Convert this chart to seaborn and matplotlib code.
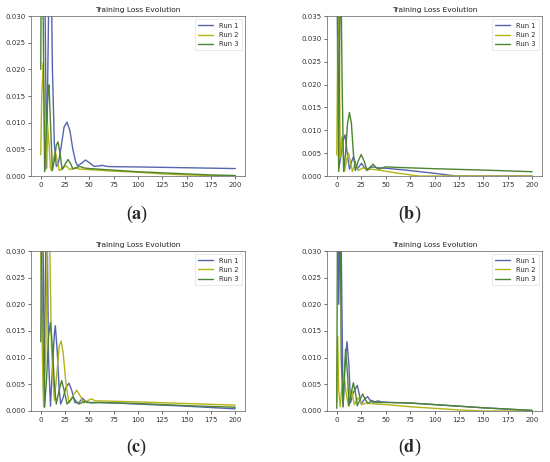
import matplotlib
matplotlib.use("Agg")
import pandas as pd
import seaborn as sns
from matplotlib import pyplot as plt

# values (epoch, loss)
# panel (a)
a_run1_x = [0, 3, 6, 8, 10, 12, 14, 16, 18, 21, 24, 27, 30, 33, 36, 38, 42, 46, 50, 55, 60, 63, 68, 75, 100, 150, 200]
a_run1_y = [0.12, 0.06, 0.0015, 0.03, 0.05, 0.02, 0.006, 0.0018, 0.0022, 0.0055, 0.0092, 0.0101, 0.0085, 0.005, 0.0026, 0.0019, 0.0024, 0.003, 0.0025, 0.0018, 0.0019, 0.002, 0.0018, 0.00175, 0.0017, 0.00155, 0.0014]
a_run2_x = [0, 1, 2.4, 4, 5, 6, 7, 8.5, 10, 11, 13, 15, 17, 19, 22, 26, 30, 34, 40, 50, 75, 100, 125, 150, 175, 200]
a_run2_y = [0.004, 0.015, 0.0213, 0.007, 0.0012, 0.006, 0.0097, 0.006, 0.0015, 0.001, 0.0032, 0.0046, 0.0028, 0.001, 0.0014, 0.0019, 0.0012, 0.0015, 0.0013, 0.0012, 0.0009, 0.0007, 0.0004, 0.0002, 0.0001, 0.0]
a_run3_x = [0, 1, 2, 4, 6, 7.5, 8.5, 10, 12, 14, 16, 17.8, 20, 22, 25, 28, 31, 33, 37, 40, 45, 50, 75, 100, 125, 150, 175, 200]
a_run3_y = [0.02, 0.06, 0.04, 0.0008, 0.01, 0.016, 0.0171, 0.01, 0.001, 0.003, 0.0058, 0.0064, 0.004, 0.0012, 0.0022, 0.0031, 0.0022, 0.0013, 0.0016, 0.0018, 0.0015, 0.0014, 0.0011, 0.0008, 0.0006, 0.0004, 0.0002, 0.0001]

# panel (b)
b_run1_x = [0, 1, 2, 4, 6, 8.5, 11, 13, 15, 17, 19, 21, 23, 25.4, 28, 30, 34, 37, 42, 50, 70, 100, 122, 150, 200]
b_run1_y = [0.05, 0.0228, 0.0015, 0.004, 0.0075, 0.009, 0.0045, 0.0015, 0.003, 0.0042, 0.003, 0.0015, 0.0021, 0.0028, 0.0019, 0.0014, 0.0018, 0.002, 0.0018, 0.0017, 0.0013, 0.0006, 0.0, 0.0, 0.0]
b_run2_x = [0, 1, 2, 3.5, 5.4, 7, 8, 10, 12, 14, 16, 19, 22, 27, 31, 35, 43, 60, 84, 100, 150, 200]
b_run2_y = [0.0046, 0.03, 0.045, 0.004, 0.0086, 0.004, 0.001, 0.0035, 0.005, 0.003, 0.001, 0.0028, 0.0012, 0.0018, 0.0013, 0.0015, 0.0013, 0.0007, 0.0, 0.0, 0.0, 0.0]
b_run3_x = [0, 1, 2, 3, 4, 5.5, 7, 9, 11, 13, 15, 17, 19, 22, 25, 28, 31, 34, 37, 40, 43, 47, 50, 60, 100, 150, 200]
b_run3_y = [0.06, 0.035, 0.001, 0.03, 0.05, 0.02, 0.001, 0.005, 0.0115, 0.0139, 0.0115, 0.005, 0.0012, 0.0033, 0.0047, 0.0033, 0.0012, 0.0019, 0.0026, 0.0019, 0.0015, 0.0018, 0.002, 0.0019, 0.0016, 0.0013, 0.00094]

# panel (c)
c_run1_x = [0, 1.5, 3, 4.5, 6, 8, 10, 12, 14, 15, 17, 19, 20.5, 23, 26, 29, 32, 35, 39, 43, 47, 55, 75, 100, 150, 200]
c_run1_y = [0.05, 0.02, 0.0022, 0.02, 0.045, 0.01, 0.0009, 0.008, 0.0145, 0.016, 0.011, 0.004, 0.0013, 0.0025, 0.0045, 0.0052, 0.0038, 0.0016, 0.0015, 0.0024, 0.0016, 0.0016, 0.0015, 0.0013, 0.0009, 0.0004]
c_run2_x = [0, 1.5, 3, 5, 8, 11, 14, 17, 19, 21, 23, 26, 29, 33, 37, 41, 44, 48, 52, 56, 60, 100, 150, 200]
c_run2_y = [0.03, 0.012, 0.0008, 0.01, 0.045, 0.012, 0.002, 0.008, 0.0122, 0.0131, 0.011, 0.005, 0.0015, 0.0028, 0.0039, 0.0027, 0.0015, 0.0019, 0.0023, 0.0019, 0.0019, 0.0017, 0.0014, 0.0011]
c_run3_x = [0, 1.5, 4, 6, 8, 10, 12, 14, 16, 19, 21.5, 24, 27, 30, 33, 36, 39, 45, 52, 60, 100, 150, 200]
c_run3_y = [0.013, 0.05, 0.0007, 0.006, 0.014, 0.0166, 0.012, 0.005, 0.0013, 0.004, 0.0057, 0.0039, 0.0013, 0.0019, 0.0026, 0.0019, 0.0013, 0.0018, 0.0015, 0.0016, 0.0014, 0.001, 0.0007]

# panel (d)
d_run1_x = [0, 2, 4, 6.5, 8.5, 10.5, 12.5, 14, 17, 21, 23, 25, 28, 31.5, 35, 38, 42, 46, 55, 75, 100, 150, 200]
d_run1_y = [0.08, 0.02, 0.04, 0.0008, 0.009, 0.013, 0.0085, 0.0015, 0.0035, 0.0048, 0.0032, 0.0013, 0.0021, 0.0027, 0.0018, 0.0016, 0.0019, 0.0017, 0.0016, 0.0015, 0.0012, 0.0006, 0.0001]
d_run2_x = [0, 1, 2, 3.5, 5, 7.4, 9.5, 12, 15, 18, 22, 26, 30, 40, 50, 75, 100, 125, 150, 200]
d_run2_y = [0.0015, 0.014, 0.004, 0.0008, 0.004, 0.0068, 0.0035, 0.0009, 0.004, 0.0012, 0.0025, 0.0012, 0.0015, 0.0013, 0.0012, 0.0008, 0.0005, 0.0002, 0.0, 0.0]
d_run3_x = [0, 1, 2, 3, 4.5, 6.5, 9, 11, 12.5, 15, 17, 19, 21, 24, 26.5, 29, 32, 36, 40, 50, 75, 100, 150, 200]
d_run3_y = [0.0005, 0.05, 0.03, 0.06, 0.01, 0.0008, 0.0116, 0.007, 0.001, 0.0035, 0.0053, 0.0035, 0.001, 0.0022, 0.0032, 0.0022, 0.0014, 0.002, 0.0016, 0.0016, 0.0015, 0.0012, 0.0006, 0.0001]

panels = {
    'a': [(a_run1_x, a_run1_y), (a_run2_x, a_run2_y), (a_run3_x, a_run3_y)],
    'b': [(b_run1_x, b_run1_y), (b_run2_x, b_run2_y), (b_run3_x, b_run3_y)],
    'c': [(c_run1_x, c_run1_y), (c_run2_x, c_run2_y), (c_run3_x, c_run3_y)],
    'd': [(d_run1_x, d_run1_y), (d_run2_x, d_run2_y), (d_run3_x, d_run3_y)],
}
y_tops = {'a': 0.030, 'b': 0.035, 'c': 0.030, 'd': 0.030}
run_names = ['Run 1', 'Run 2', 'Run 3']
run_colors = ['#5664b0', '#b4b418', '#4d8433']

sns.set_style('ticks')
plt.rcParams['font.family'] = ['DejaVu Sans']
plt.rcParams['mathtext.fontset'] = 'stix'

fig = plt.figure(figsize=(5.5, 4.62), dpi=100)

boxes = {
    'a': [0.0564, 0.619, 0.389, 0.3463],
    'b': [0.5945, 0.619, 0.391, 0.3463],
    'c': [0.0564, 0.1104, 0.389, 0.3463],
    'd': [0.5945, 0.1104, 0.391, 0.3463],
}
captions = {'a': (0.249, 0.513), 'b': (0.745, 0.513), 'c': (0.249, 0.008), 'd': (0.745, 0.008)}

for key, runs in panels.items():
    # long table so seaborn handles the colours and legend
    parts = []
    for (xs, ys), name in zip(runs, run_names):
        parts.append(pd.DataFrame({'epoch': xs, 'loss': ys, 'run': name}))
    df = pd.concat(parts, ignore_index=True)

    ax = fig.add_axes(boxes[key])
    sns.lineplot(data=df, x='epoch', y='loss', hue='run', hue_order=run_names,
                 palette=run_colors, ax=ax, lw=1.0, sort=False, estimator=None)
    ax.set_xlim(-10, 210)
    ax.set_ylim(0, y_tops[key])
    ax.set_xticks([0, 25, 50, 75, 100, 125, 150, 175, 200])
    ax.set_xlabel('')
    ax.set_ylabel('')
    ax.set_title('Training Loss Evolution', fontsize=5.4, pad=3, color='#222222')
    ax.tick_params(labelsize=5.0, length=2, width=0.5, pad=2, colors='#333333')
    for sp in ax.spines.values():
        sp.set_linewidth(0.6)
        sp.set_color('#777777')
    leg = ax.legend(loc='upper right', fontsize=4.9, frameon=True, handlelength=2.2,
                    borderpad=0.5, labelspacing=0.45, fancybox=True)
    leg.get_frame().set_linewidth(0.4)
    cx, cy = captions[key]
    fig.text(cx, cy, f"($\\mathbf{{{key}}}$)", fontsize=13, ha='center', va='bottom',
             family=['Liberation Serif', 'DejaVu Serif'])

fig.savefig('out.png', dpi=100)
